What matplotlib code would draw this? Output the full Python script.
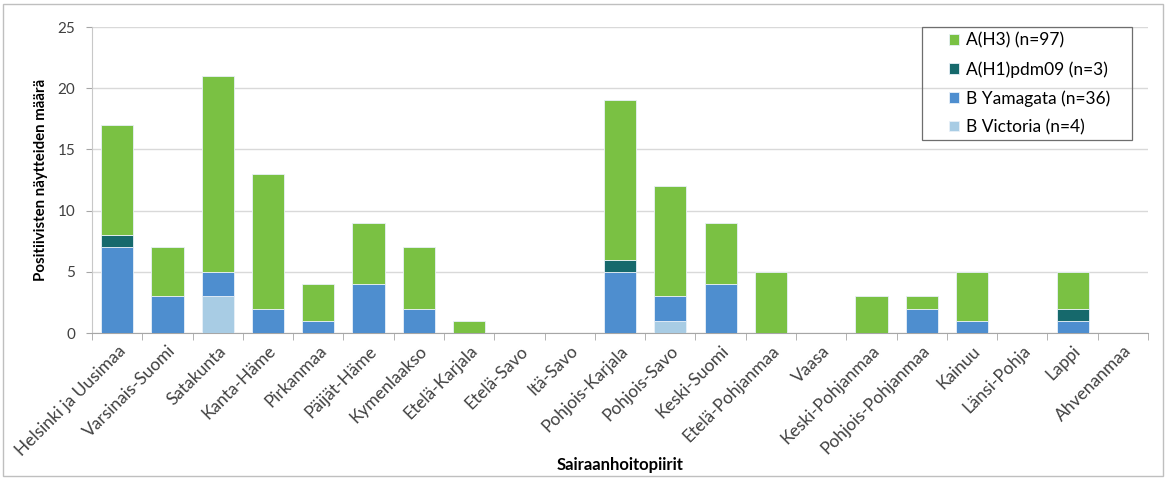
import numpy as np
import matplotlib.pyplot as plt
from matplotlib.patches import Rectangle

plt.rcParams['font.family'] = ['Lato', 'DejaVu Sans']

districts = ['Helsinki ja Uusimaa', 'Varsinais-Suomi', 'Satakunta', 'Kanta-Häme',
             'Pirkanmaa', 'Päijät-Häme', 'Kymenlaakso', 'Etelä-Karjala', 'Etelä-Savo',
             'Itä-Savo', 'Pohjois-Karjala', 'Pohjois-Savo', 'Keski-Suomi',
             'Etelä-Pohjanmaa', 'Vaasa', 'Keski-Pohjanmaa', 'Pohjois-Pohjanmaa',
             'Kainuu', 'Länsi-Pohja', 'Lappi', 'Ahvenanmaa']

b_victoria = [0, 0, 3, 0, 0, 0, 0, 0, 0, 0, 0, 1, 0, 0, 0, 0, 0, 0, 0, 0, 0]
b_yamagata = [7, 3, 2, 2, 1, 4, 2, 0, 0, 0, 5, 2, 4, 0, 0, 0, 2, 1, 0, 1, 0]
a_h1 = [1, 0, 0, 0, 0, 0, 0, 0, 0, 0, 1, 0, 0, 0, 0, 0, 0, 0, 0, 1, 0]
a_h3 = [9, 4, 16, 11, 3, 5, 5, 1, 0, 0, 13, 9, 5, 5, 0, 3, 1, 4, 0, 3, 0]

series = [
    ('A(H3) (n=97)', a_h3, '#7AC143'),
    ('A(H1)pdm09 (n=3)', a_h1, '#16696C'),
    ('B Yamagata (n=36)', b_yamagata, '#4E8ECF'),
    ('B Victoria (n=4)', b_victoria, '#A8CCE4'),
]

fig = plt.figure(figsize=(11.66, 4.78), dpi=100)
ax = fig.add_axes([0.0789, 0.3033, 0.9057, 0.6402])

x = np.arange(len(districts))
# stack from the bottom: Victoria, Yamagata, H1, H3
bottom = np.zeros(len(districts))
handles = {}
for label, vals, color in reversed(series):
    vals = np.array(vals, dtype=float)
    bars = ax.bar(x, vals, 0.64, bottom=bottom, color=color,
                  edgecolor='#E8F0F8', linewidth=0.6, zorder=3)
    handles[label] = bars
    bottom += vals

ax.set_xlim(-0.5, len(districts) - 0.5)
ax.set_ylim(0, 25)
ax.set_yticks(range(0, 26, 5))
ax.yaxis.grid(True, color='#D9D9D9', linewidth=1.0, zorder=0)
for s in ['top', 'right']:
    ax.spines[s].set_visible(False)
ax.spines['bottom'].set_color('#A6A6A6')
ax.spines['left'].set_color('#C8C8C8')
ax.tick_params(axis='y', length=4, color='#A6A6A6', labelsize=11,
               labelcolor='#404040', pad=8)

ax.set_xticks(x)
ax.set_xticklabels(districts, rotation=45, ha='right', rotation_mode='anchor',
                   fontsize=12.5, color='#404040')
ax.set_xticks(np.arange(-0.5, len(districts)), minor=True)
ax.tick_params(axis='x', which='major', length=0, pad=7)
ax.tick_params(axis='x', which='minor', length=5, color='#A6A6A6')

ax.set_ylabel('Positiivisten näytteiden määrä', fontsize=10.8, fontweight='bold')
ax.yaxis.set_label_coords(-0.042, 0.5)
ax.set_xlabel('Sairaanhoitopiirit', fontsize=12, fontweight='bold')
ax.xaxis.set_label_coords(0.5, -0.405)

leg = ax.legend([handles[s[0]] for s in series], [s[0] for s in series],
                loc='upper left', bbox_to_anchor=(0.8116, 0.982), fontsize=12.5,
                frameon=False, handlelength=0.55, handleheight=0.55,
                borderpad=0, labelspacing=0.72, handletextpad=0.4,
                borderaxespad=0)
ax.add_patch(Rectangle((0.786, 0.631), 0.199, 0.369, transform=ax.transAxes,
                       fill=False, edgecolor='#6E6E6E', linewidth=0.9,
                       clip_on=False, zorder=5))

fig.patches.append(Rectangle((0.003, 0.004), 0.994, 0.988, transform=fig.transFigure,
                             fill=False, edgecolor='#BFBFBF', linewidth=1.0))

fig.savefig('out.png', dpi=100)
